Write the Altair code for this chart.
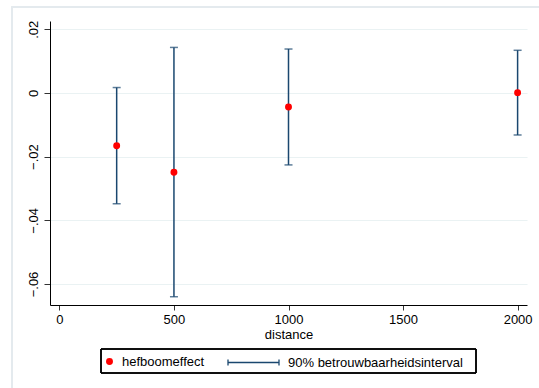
import altair as alt
import pandas as pd

# data
distance = [250, 500, 1000, 2000]
effect = [-0.0166, -0.0249, -0.0044, 0.0001]
ci_low = [-0.0348, -0.0640, -0.0226, -0.0132]
ci_high = [0.0017, 0.0143, 0.0138, 0.0134]
y_ticks = [-0.06, -0.04, -0.02, 0, 0.02]
x_ticks = [0, 500, 1000, 1500, 2000]
point_label = "hefboomeffect"
ci_label = "90% betrouwbaarheidsinterval"

df = pd.DataFrame({"distance": distance, "effect": effect, "lo": ci_low, "hi": ci_high,
                   "pl": point_label, "cl": ci_label})

NAVY = "#1a476f"
FONT = "Liberation Sans"

xs = alt.Scale(domain=[-41, 2041], nice=False, zero=False)
ys = alt.Scale(domain=[-0.0666, 0.0226], nice=False, zero=False)

xax = alt.Axis(values=x_ticks, title="distance", grid=False, format="d", labelFontSize=13, titleFontSize=13,
               titleFontWeight="normal", labelFont=FONT, titleFont=FONT, tickSize=5,
               labelPadding=3, titlePadding=2, domainColor="black", tickColor="#333333",
               labelColor="black", titleColor="black", labelFlush=False)
yax = alt.Axis(values=y_ticks, title=None, grid=True, gridColor="#eaf2f3", gridWidth=1.2,
               labelAngle=270, labelFontSize=13, labelFont=FONT, tickSize=6, labelPadding=4,
               domainColor="black", tickColor="#333333", labelColor="black",
               labelExpr="datum.value == 0 ? '0' : replace(format(datum.value, '.2f'), '0.', '.')")

base = alt.Chart(df)

rules = base.mark_rule(strokeWidth=1.5).encode(
    x=alt.X("distance:Q", scale=xs, axis=xax),
    y=alt.Y("lo:Q", scale=ys, axis=yax),
    y2="hi:Q",
    stroke=alt.Stroke("cl:N", scale=alt.Scale(domain=[ci_label], range=[NAVY]),
                      legend=alt.Legend(title=None, orient="none", legendX=177, legendY=315,
                                        symbolType="M-1,-0.12L-1,0.12M-1,0L1,0M1,-0.12L1,0.12",
                                        symbolSize=2601, symbolStrokeWidth=1.3,
                                        symbolFillColor="transparent", labelFontSize=13,
                                        labelFont=FONT, labelColor="black", labelOffset=8,
                                        labelLimit=400, padding=0)),
)
cap_lo = base.mark_tick(orient="horizontal", size=8, thickness=1.5, color=NAVY).encode(
    x=alt.X("distance:Q", scale=xs), y=alt.Y("lo:Q", scale=ys))
cap_hi = base.mark_tick(orient="horizontal", size=8, thickness=1.5, color=NAVY).encode(
    x=alt.X("distance:Q", scale=xs), y=alt.Y("hi:Q", scale=ys))

points = base.mark_point(filled=True, size=48, opacity=1, shape="circle").encode(
    x=alt.X("distance:Q", scale=xs), y=alt.Y("effect:Q", scale=ys),
    fill=alt.Fill("pl:N", scale=alt.Scale(domain=[point_label], range=["#ff0000"]),
                  legend=alt.Legend(title=None, orient="none", legendX=53, legendY=334,
                                    symbolType="circle", symbolSize=48, symbolStrokeWidth=0,
                                    labelFontSize=13, labelFont=FONT, labelColor="black",
                                    labelOffset=6, labelLimit=400, padding=0)),
)

# decorations: legend box and outer graph frame
legend_box = alt.Chart(df).mark_rect(fill="transparent", stroke="black", strokeWidth=1, clip=False).encode(
    x=alt.value(51), x2=alt.value(426), y=alt.value(328), y2=alt.value(352))
frame = alt.Chart(df).mark_rect(fill="transparent", stroke="#e4eaee", strokeWidth=1.5, clip=False).encode(
    x=alt.value(-38), x2=alt.value(520), y=alt.value(-14), y2=alt.value(400))

chart = alt.layer(frame, rules, cap_lo, cap_hi, points, legend_box).resolve_legend(
    fill="independent", stroke="independent"
).properties(
    width=477, height=284,
    autosize=alt.AutoSizeParams(type="none"),
    padding={"left": 50, "top": 21, "right": 12, "bottom": 83},
    background="white",
).configure_view(stroke=None)

chart.save("out.html", embed_options={"renderer": "svg", "actions": False})
